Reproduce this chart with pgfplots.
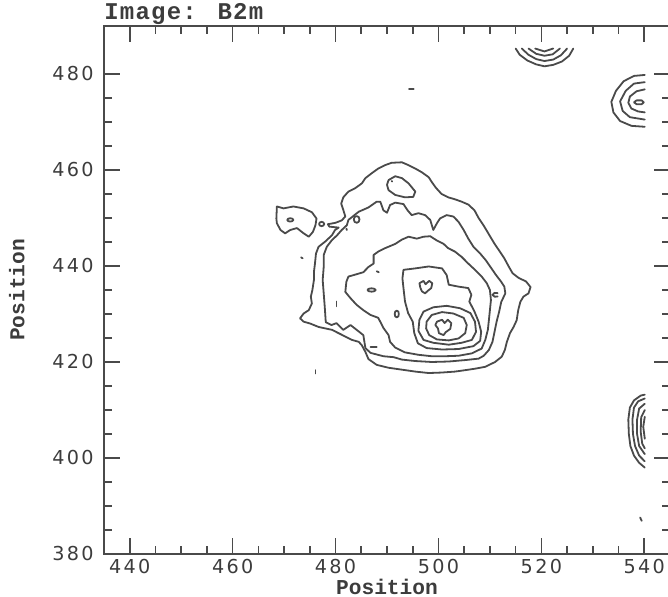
\documentclass[border=0pt]{standalone}
\usepackage{pgfplots}
\pgfplotsset{compat=1.18}
\usepackage{fontspec}
\setmainfont{Liberation Mono}
\newfontfamily\tickfont{DejaVu Sans}[LetterSpace=12]
\definecolor{ln}{HTML}{4A4A4A}
\definecolor{tx}{HTML}{3C3C3C}
\pgfplotsset{cl/.style={ln, line width=0.9pt, line join=round, line cap=round, mark=none}}
\begin{document}
\begin{tikzpicture}
\begin{axis}[
  at={(0,0)}, anchor=south west,
  scale only axis, width=283pt, height=264pt,
  xmin=435, xmax=545, ymin=380, ymax=490,
  xtick={440,460,...,540}, ytick={380,400,...,480},
  minor tick num=3, tick align=inside,
  major tick length=8pt, minor tick length=4pt,
  axis line style={ln, line width=0.9pt},
  every tick/.style={ln, line width=0.8pt},
  tick label style={font=\tickfont\fontsize{9.6}{11}\selectfont, text=tx},
  /pgf/number format/assume math mode=true,
  /pgf/number format/set thousands separator={},
  xticklabel style={anchor=base, inner sep=0pt, yshift=-10pt},
  yticklabel style={anchor=east, inner sep=0pt, xshift=-5pt},
  xlabel={Position},
  xlabel style={at={(axis description cs:0.5,0)}, anchor=base, inner sep=0pt, yshift=-20.5pt, font=\fontsize{10.6}{12}\selectfont\bfseries, text=tx},
  ylabel={Position},
  ylabel style={at={(axis description cs:-0.154,0.5)}, anchor=center, inner sep=0pt, font=\fontsize{10.6}{12}\selectfont\bfseries, text=tx},
  every axis title shift=0pt,
  title={Image: B2m},
  title style={at={(axis description cs:0,1)}, anchor=base west, inner sep=0pt, xshift=0pt, yshift=3pt, font=\fontsize{12}{14}\selectfont\bfseries\addfontfeature{LetterSpace=5}, text=tx},
]
% outer contour
\addplot[cl] coordinates {(482.5,455.5)(483.8,456.2)(485.1,457.2)(485.8,458.3)(487.0,459.3)(488.3,460.3)(489.6,461.0)(490.9,461.5)(492.9,461.6)(494.2,461.0)(495.5,460.3)(496.8,459.5)(498.1,458.5)(498.7,457.5)(499.5,456.3)(500.6,455.0)(501.9,454.3)(503.2,453.9)(504.5,453.4)(505.8,452.8)(507.0,451.6)(507.8,450.0)(508.8,448.4)(509.8,446.6)(510.8,444.8)(511.8,443.2)(512.8,441.6)(513.6,440.0)(514.4,438.5)(515.6,437.5)(517.0,436.8)(517.9,435.6)(517.5,434.3)(516.5,433.6)(515.9,432.5)(515.5,430.8)(515.2,428.7)(514.6,427.3)(513.9,426.0)(513.3,424.2)(512.9,422.5)(512.3,421.1)(511.0,420.0)(509.1,419.0)(507.1,418.6)(505.2,418.3)(503.2,418.0)(500.6,417.8)(498.1,417.7)(495.5,418.0)(492.9,418.4)(490.3,418.8)(488.0,419.4)(486.4,420.6)(485.8,422.1)(485.1,423.5)(484.5,424.2)(483.2,424.6)(481.9,425.3)(480.6,426.0)(479.3,426.7)(478.0,427.0)(476.7,427.3)(475.1,428.0)(473.8,428.4)(473.1,429.1)(473.8,430.1)(474.8,430.8)(475.4,432.2)(475.2,433.6)(475.5,435.0)(475.8,437.1)(475.8,438.8)(476.0,440.5)(476.2,442.6)(476.7,444.0)(478.0,445.1)(479.3,446.4)(479.9,447.5)(480.6,448.0)(478.8,448.2)(478.5,448.7)(480.0,449.0)(481.2,449.5)(481.9,450.3)(481.5,451.7)(481.1,453.0)(481.5,454.3)(482.5,455.5)};
% second contour
\addplot[cl] coordinates {(482.5,449.6)(484.5,451.3)(486.4,452.2)(488.0,453.4)(488.7,453.4)(489.3,451.6)(490.0,451.1)(490.6,452.7)(491.6,453.2)(493.2,452.9)(494.0,451.6)(494.8,450.6)(496.1,451.0)(497.4,450.6)(498.4,449.6)(499.0,447.5)(499.7,448.9)(500.3,449.9)(501.6,450.6)(502.9,450.3)(503.9,449.2)(504.9,447.5)(505.8,445.7)(506.8,444.0)(508.1,442.6)(509.2,441.2)(510.3,439.5)(511.2,438.1)(512.2,436.7)(512.8,435.7)(513.0,434.3)(512.2,432.5)(511.8,430.5)(511.3,428.4)(510.9,426.3)(510.5,424.2)(509.8,422.5)(508.8,421.3)(507.8,420.7)(505.2,420.4)(502.0,420.1)(498.7,420.0)(495.5,420.2)(492.9,420.5)(491.3,421.0)(489.3,421.2)(486.8,421.9)(485.8,422.9)(485.4,425.6)(484.1,426.7)(482.9,427.7)(481.5,426.7)(480.2,428.1)(479.2,427.7)(478.1,428.3)(477.9,431.5)(477.7,434.3)(477.5,437.1)(477.7,439.8)(477.7,442.3)(478.3,444.0)(479.3,445.4)(480.3,446.4)(481.2,447.5)(482.2,448.5)(482.5,449.6)};
% third contour
\addplot[cl] coordinates {(482.1,436.7)(482.5,437.8)(483.5,438.1)(485.4,438.7)(486.4,439.8)(487.4,440.5)(487.4,442.3)(488.3,443.0)(489.6,443.7)(491.6,444.6)(492.9,445.5)(494.2,446.1)(495.8,445.7)(497.1,446.1)(498.4,446.2)(499.7,445.3)(501.0,444.6)(501.9,443.7)(503.2,443.0)(504.5,441.9)(505.8,440.5)(507.1,439.2)(508.4,437.8)(509.4,436.4)(510.0,435.0)(510.2,432.9)(510.0,430.8)(509.8,428.7)(509.6,426.7)(509.1,424.6)(508.4,422.8)(506.5,421.8)(503.9,421.3)(501.3,421.2)(498.7,421.2)(496.1,421.5)(493.5,422.0)(491.6,423.0)(490.6,424.2)(490.3,425.6)(489.3,427.1)(488.3,429.2)(486.8,429.8)(485.4,430.8)(484.1,431.9)(482.9,433.3)(481.9,434.6)(482.1,436.7)};
% fourth contour
\addplot[cl] coordinates {(493.2,439.2)(495.5,439.5)(498.1,439.9)(500.7,439.5)(501.6,438.1)(502.0,436.1)(503.9,435.7)(505.8,435.4)(506.4,434.0)(506.0,432.6)(507.0,430.5)(507.8,428.4)(508.3,426.3)(508.1,424.4)(506.8,423.3)(503.9,422.7)(500.7,422.6)(497.7,422.9)(496.0,423.9)(495.3,426.0)(495.0,428.4)(494.1,430.2)(493.5,432.6)(493.2,435.4)(493.0,437.4)(493.2,439.2)};
% rings round the lower core
\addplot[cl] coordinates {(496.3,428.8)(497.1,430.5)(499.0,431.4)(501.6,431.7)(504.2,431.2)(506.2,430.2)(507.1,428.4)(507.3,426.3)(506.5,424.6)(504.5,424.0)(502.0,423.6)(499.0,424.0)(497.1,424.6)(496.1,426.5)(496.3,428.8)};
\addplot[cl] coordinates {(497.7,428.4)(498.7,429.8)(500.7,430.4)(502.9,430.1)(504.9,429.2)(505.5,427.7)(505.2,426.0)(503.9,424.9)(502.0,424.5)(499.7,424.7)(498.2,425.6)(497.6,427.0)(497.7,428.4)};
\addplot[cl] coordinates {(499.7,428.4)(500.7,428.8)(501.2,428.1)(501.8,428.8)(502.5,428.1)(502.3,426.9)(501.4,426.2)(501.0,425.6)(500.1,426.0)(499.9,427.0)(499.4,427.7)(499.7,428.4)};
% upper cores
\addplot[cl] coordinates {(496.3,436.4)(497.1,436.9)(497.5,436.2)(498.2,436.9)(498.8,436.4)(498.6,435.4)(497.9,434.8)(497.4,434.3)(496.8,434.7)(496.5,435.4)(496.3,436.4)};
\addplot[cl] coordinates {(490.3,457.9)(491.6,458.7)(492.9,458.3)(494.2,457.2)(495.5,455.5)(495.1,454.4)(493.5,454.3)(491.6,454.8)(490.3,455.8)(490.0,456.9)(490.3,457.9)};
% left island
\addplot[cl] coordinates {(468.6,452.4)(469.9,452.0)(471.8,452.4)(473.8,452.0)(475.4,451.2)(476.3,449.9)(476.1,448.5)(475.6,447.1)(474.8,446.1)(473.8,446.8)(472.5,447.9)(471.2,447.5)(470.2,446.8)(469.3,447.5)(468.6,448.9)(468.5,449.9)(468.6,452.4)};
% small loops
\addplot[cl] coordinates {(470.6,449.6)(470.8,449.85)(471.2,449.95)(471.6,449.85)(471.8,449.6)(471.6,449.35)(471.2,449.25)(470.8,449.35)(470.6,449.6)};
\addplot[cl] coordinates {(476.8,448.75)(476.95,449.07)(477.3,449.2)(477.65,449.07)(477.8,448.75)(477.65,448.43)(477.3,448.3)(476.95,448.43)(476.8,448.75)};
\addplot[cl] coordinates {(483.55,449.7)(483.7,450.2)(484.1,450.4)(484.5,450.2)(484.65,449.7)(484.5,449.2)(484.1,449.0)(483.7,449.2)(483.55,449.7)};
\addplot[cl] coordinates {(486.2,435)(486.45,435.25)(487,435.35)(487.55,435.25)(487.8,435)(487.55,434.75)(487,434.65)(486.45,434.75)(486.2,435)};
\addplot[cl] coordinates {(491.5,430)(491.6,430.5)(491.9,430.7)(492.2,430.5)(492.3,430)(492.2,429.5)(491.9,429.3)(491.6,429.5)(491.5,430)};
\addplot[cl] coordinates {(511.5,434.35)(510.9,434.4)(510.5,434.0)(510.9,433.6)(511.5,433.65)};
% dots and dashes
\addplot[cl] coordinates {(476.1,418.3)(476.1,417.6)};
\addplot[cl] coordinates {(473.3,441.8)(473.6,441.6)};
\addplot[cl] coordinates {(494.3,476.9)(495.2,476.9)};
\addplot[cl] coordinates {(539.2,387.6)(539.5,386.9)};
\addplot[cl] coordinates {(488.0,438.9)(488.4,438.7)};
\addplot[cl] coordinates {(480.2,432.6)(480.2,431.6)};
\addplot[cl] coordinates {(486.8,423.1)(488.0,423.1)};
\addplot[cl] coordinates {(482.1,447.8)(482.2,447.5)};
\addplot[cl] coordinates {(490.9,457.7)(491.0,457.6)};
% top arcs near (520,485)
\addplot[cl] coordinates {(515.0,485.3)(515.8,484.0)(517.3,482.8)(519.0,482.0)(520.6,481.6)(522.3,481.9)(524.0,482.6)(525.4,483.8)(526.2,485.3)};
\addplot[cl] coordinates {(516.2,485.3)(517.5,484.0)(519.0,483.1)(520.6,482.7)(522.3,483.0)(523.8,483.9)(525.0,485.3)};
\addplot[cl] coordinates {(517.5,485.3)(519.0,484.2)(520.6,483.8)(522.2,484.1)(523.6,485.3)};
\addplot[cl] coordinates {(518.8,485.3)(520.6,484.7)(522.3,485.3)};
% right contours near (539,474)
\addplot[cl] coordinates {(540.1,479.8)(538.0,479.6)(536.0,478.5)(534.5,476.5)(533.6,474.2)(534.0,472.0)(535.3,470.2)(537.5,469.2)(540.1,469.0)};
\addplot[cl] coordinates {(540.1,478.3)(538.0,478.0)(536.4,476.5)(535.3,474.3)(535.8,472.3)(537.2,471.0)(540.1,470.5)};
\addplot[cl] coordinates {(540.1,476.8)(538.5,476.4)(537.2,475.3)(536.9,474.0)(537.5,472.8)(538.8,472.2)(540.1,472.0)};
\addplot[cl] coordinates {(538.0,474.1)(538.5,474.5)(539.5,474.5)(539.9,474.1)(539.5,473.7)(538.5,473.7)(538.0,474.1)};
% right contours near (539,405)
\addplot[cl] coordinates {(540.1,413.2)(539.3,413.0)(538.0,412.0)(537.2,410.5)(536.9,408)(537.0,405)(537.3,402.5)(538.0,400.5)(539.0,399)(540.1,398)};
\addplot[cl] coordinates {(540.1,412.4)(538.8,411.8)(538.0,410.5)(537.7,408)(537.8,405)(538.2,402.5)(539.0,400.5)(540.1,399.3)};
\addplot[cl] coordinates {(540.1,411.3)(539.0,410.3)(538.6,408)(538.6,405)(539.0,402.5)(540.1,400.8)};
\addplot[cl] coordinates {(540.1,410)(539.4,408.5)(539.3,405.5)(539.6,403)(540.1,402)};
\addplot[cl] coordinates {(540.1,408.6)(539.8,406.5)(540.1,404)};
\end{axis}
\pgfresetboundingbox
\path[use as bounding box] (-52pt,-21.5pt) rectangle (282pt,277pt);
\end{tikzpicture}
\end{document}
